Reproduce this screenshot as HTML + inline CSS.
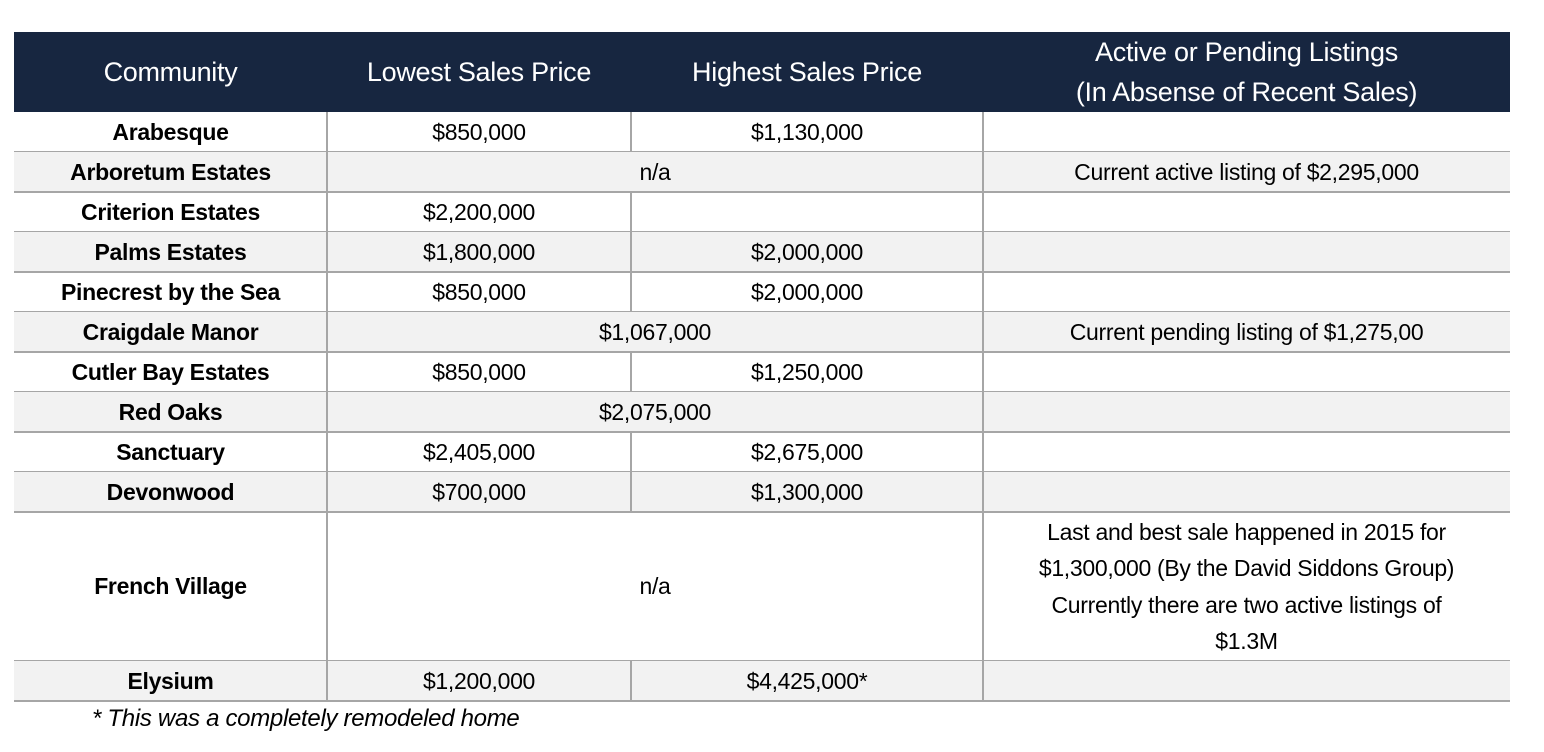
<!DOCTYPE html>
<html><head><meta charset="utf-8"><style>
body{margin:0;width:1544px;height:752px;background:#fff;position:relative;overflow:hidden;font-family:"Liberation Sans",sans-serif;}
.c{position:absolute;box-sizing:border-box;display:flex;align-items:center;justify-content:center;text-align:center;font-size:23px;color:#000;line-height:36.5px;letter-spacing:-0.3px;}
.h{background:#172640;color:#fff;font-size:27px;line-height:40px;}
.b{font-weight:bold;}
.g{background:#f2f2f2;}
.hl{position:absolute;height:2px;background:#a6a6a6;left:14px;width:1496px;}
.vl{position:absolute;width:2px;background:#a6a6a6;}
</style></head><body>
<div id="t"></div>
<div style="position:absolute;left:92px;top:705px;font-size:24px;font-style:italic;letter-spacing:-0.3px;">* This was a completely remodeled home</div>
<script>
const cols=[14,327,631,983,1510];
const rows=[
["Arabesque","$850,000","$1,130,000",""],
["Arboretum Estates","n/a",null,"Current active listing of $2,295,000"],
["Criterion Estates","$2,200,000","",""],
["Palms Estates","$1,800,000","$2,000,000",""],
["Pinecrest by the Sea","$850,000","$2,000,000",""],
["Craigdale Manor","$1,067,000",null,"Current pending listing of $1,275,00"],
["Cutler Bay Estates","$850,000","$1,250,000",""],
["Red Oaks","$2,075,000",null,""],
["Sanctuary","$2,405,000","$2,675,000",""],
["Devonwood","$700,000","$1,300,000",""],
["French Village","n/a",null,"Last and best sale happened in 2015 for<br>$1,300,000 (By the David Siddons Group)<br>Currently there are two active listings of<br>$1.3M"],
["Elysium","$1,200,000","$4,425,000*",""]];
const heights=[40,40,40,40,40,40,40,40,40,40,149,40];
const t=document.getElementById('t');
const hdr=["Community","Lowest Sales Price","Highest Sales Price","Active or Pending Listings<br>(In Absense of Recent Sales)"];
hdr.forEach((h,i)=>{const d=document.createElement('div');d.className='c h';


d.style.left=cols[i]+'px';d.style.width=(cols[i+1]-cols[i])+'px';d.style.top='32px';d.style.height='80px';d.innerHTML=h;t.appendChild(d);});
let y=112;
rows.forEach((r,ri)=>{const h=heights[ri];
for(let i=0;i<4;i++){
 if(r[i]===null)continue;
 let span=(i<3&&r[i+1]===null)?2:1;
 const d=document.createElement('div');d.className='c'+(i==0?' b':'')+(ri%2?' g':'');
 
 
 d.style.left=cols[i]+'px';d.style.width=(cols[i+span]-cols[i])+'px';d.style.top=y+'px';d.style.height=h+'px';d.innerHTML=r[i];t.appendChild(d);
 if(i>0){const v=document.createElement('div');v.className='vl';
 
 
 v.style.left=(cols[i]-1)+'px';v.style.top=y+'px';v.style.height=h+'px';t.appendChild(v);}
}
y+=h;const l=document.createElement('div');l.className='hl';


l.style.top=(y-1)+'px';t.appendChild(l);});
</script>
</body></html>
